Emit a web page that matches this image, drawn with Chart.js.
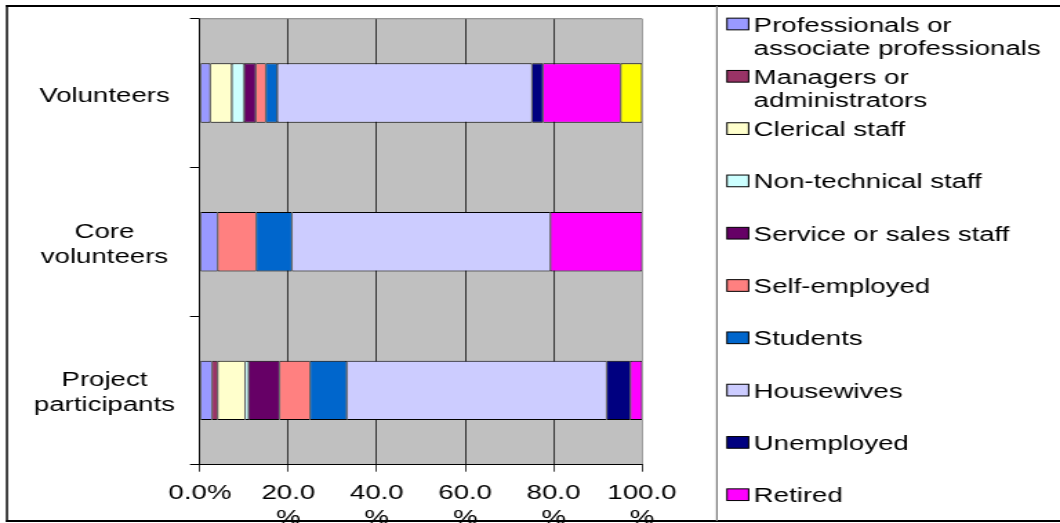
<!DOCTYPE html>
<html>
<head>
<meta charset="utf-8">
<script src="https://cdn.jsdelivr.net/npm/chart.js@4/dist/chart.umd.min.js"></script>
<style>
  html, body { margin: 0; padding: 0; background: #fff; overflow: hidden; }
  /* The chart is laid out in a narrower box and widened horizontally,
     which gives the broad lettering of the original spreadsheet export. */
  #wrap {
    position: absolute; left: 0; top: 0;
    width: 768px; height: 523px;
    transform: scaleX(1.3802); transform-origin: 0 0;
  }
</style>
</head>
<body>
<div id="wrap"><canvas id="chart"></canvas></div>
<script>
// Groups (rows of the chart)
const categories = ['Volunteers', ['Core', 'volunteers'], ['Project', 'participants']];

// Occupation shares, % of each group: [Volunteers, Core volunteers, Project participants]
const professionals = [2.3, 4.0, 2.7];
const managers      = [0, 0, 1.3];
const clerical      = [4.9, 0, 6.2];
const nonTechnical  = [2.8, 0, 0.8];
const serviceSales  = [2.6, 0, 7.0];
const selfEmployed  = [2.3, 8.7, 6.9];
const students      = [2.6, 8.1, 8.3];
const housewives    = [57.6, 58.5, 58.8];
const unemployed    = [2.5, 0, 5.4];
const retired       = [17.6, 20.7, 2.6];
const others        = [4.8, 0, 0];

const seriesNames = [
  'Professionals or associate professionals',
  'Managers or administrators',
  'Clerical staff',
  'Non-technical staff',
  'Service or sales staff',
  'Self-employed',
  'Students',
  'Housewives',
  'Unemployed',
  'Retired',
  'Others'
];
const seriesValues = [professionals, managers, clerical, nonTechnical, serviceSales,
  selfEmployed, students, housewives, unemployed, retired, others];
const seriesColors = ['#9999FF', '#993366', '#FFFFCC', '#CCFFFF', '#660066',
  '#FF8080', '#0066CC', '#CCCCFF', '#000080', '#FF00FF', '#FFFF00'];

// Axis tick labels (the narrow axis wraps the percent sign)
const xTickLabels = ['0.0%', ['20.0', '%'], ['40.0', '%'], ['60.0', '%'], ['80.0', '%'], ['100.0', '%']];

const FONT = '"Liberation Sans", Arial, Helvetica, sans-serif';
Chart.defaults.font.family = FONT;

// Grey plot background, plot frame and outer chart border
const framePlugin = {
  id: 'frame',
  beforeDraw(chart) {
    const { ctx, chartArea: a } = chart;
    ctx.save();
    ctx.fillStyle = '#fff';
    ctx.fillRect(0, 0, chart.width, chart.height);
    ctx.fillStyle = '#C0C0C0';
    ctx.fillRect(a.left, a.top, a.right - a.left, a.bottom - a.top);
    ctx.restore();
  },
  beforeDatasetsDraw(chart) {
    const { ctx, chartArea: a } = chart;
    ctx.save();
    ctx.fillStyle = '#808080';
    ctx.fillRect(a.left, a.top - 0.5, a.right - a.left, 1);
    ctx.restore();
  },
  afterDraw(chart) {
    const ctx = chart.ctx;
    ctx.save();
    ctx.fillStyle = '#000';
    ctx.fillRect(4.3, 5, chart.width, 2);
    ctx.fillRect(4.3, 5, 1.45, 517);
    ctx.fillRect(4.3, 520, chart.width, 2);
    ctx.fillStyle = '#808080';
    ctx.fillRect(518.8, 6, 1.2, 515);
    ctx.restore();
  }
};

// Legend on the right, one entry per series, long names wrapped
const sideLegend = {
  id: 'sideLegend',
  afterDraw(chart) {
    const ctx = chart.ctx;
    const keyX = 526.7, keyW = 15.7, keyH = 11.7;
    const textX = 546.1, maxW = 214;
    ctx.save();
    ctx.font = '20px ' + FONT;
    ctx.textAlign = 'left';
    ctx.textBaseline = 'alphabetic';
    chart.data.datasets.forEach((ds, i) => {
      const base = 31.5 + 52.3 * i;
      if (base - 16 > chart.height) return;
      const words = ds.label.split(' ');
      const lines = [];
      let cur = '';
      words.forEach(w => {
        const t = cur ? cur + ' ' + w : w;
        if (cur && ctx.measureText(t).width > maxW) { lines.push(cur); cur = w; }
        else cur = t;
      });
      if (cur) lines.push(cur);
      const cy = base - 7.5;
      ctx.fillStyle = ds.backgroundColor;
      ctx.fillRect(keyX, cy - keyH / 2, keyW, keyH);
      ctx.strokeStyle = '#000';
      ctx.lineWidth = 1;
      ctx.strokeRect(keyX, cy - keyH / 2, keyW, keyH);
      ctx.fillStyle = '#000';
      lines.forEach((ln, j) => ctx.fillText(ln, textX, base + 23 * j));
    });
    ctx.restore();
  }
};

new Chart(document.getElementById('chart'), {
  type: 'bar',
  data: {
    labels: categories,
    datasets: seriesNames.map((name, i) => ({
      label: name,
      data: seriesValues[i],
      backgroundColor: seriesColors[i]
    }))
  },
  options: {
    indexAxis: 'y',
    responsive: true,
    maintainAspectRatio: false,
    animation: false,
    events: [],
    layout: { padding: { left: 0, right: 302.9, top: 18.7, bottom: 0 } },
    datasets: {
      bar: {
        categoryPercentage: 1,
        barPercentage: 0.4,
        borderColor: '#000',
        borderWidth: { top: 1, bottom: 1, left: 0.6, right: 0.6 },
        borderSkipped: false
      }
    },
    plugins: {
      legend: { display: false },
      tooltip: { enabled: false }
    },
    scales: {
      x: {
        type: 'linear',
        stacked: true,
        min: 0,
        max: 100,
        ticks: {
          stepSize: 20,
          autoSkip: false,
          maxRotation: 0,
          minRotation: 0,
          padding: 8.8,
          color: '#000',
          font: { size: 20, lineHeight: 1.25 },
          callback: (v, i) => xTickLabels[i]
        },
        grid: {
          color: c => (c.tick && c.tick.value === 100 ? '#808080' : '#000'),
          lineWidth: 0.75,
          tickLength: 7,
          tickColor: '#000',
          tickWidth: 0.75
        },
        border: { color: '#000', width: 1 },
        afterFit: s => { s.height = 58.3; }
      },
      y: {
        stacked: true,
        ticks: {
          autoSkip: false,
          crossAlign: 'center',
          padding: 10.85,
          labelOffset: 3,
          color: '#000',
          font: { size: 20, lineHeight: 1.25 }
        },
        grid: {
          offset: true,
          drawOnChartArea: false,
          tickLength: 7.25,
          color: '#000',
          lineWidth: 1
        },
        border: { color: '#000', width: 0.75 },
        afterFit: s => { s.width = 144.9; s.paddingTop = 0; s.paddingBottom = 0; }
      }
    }
  },
  plugins: [framePlugin, sideLegend]
});
</script>
</body>
</html>
